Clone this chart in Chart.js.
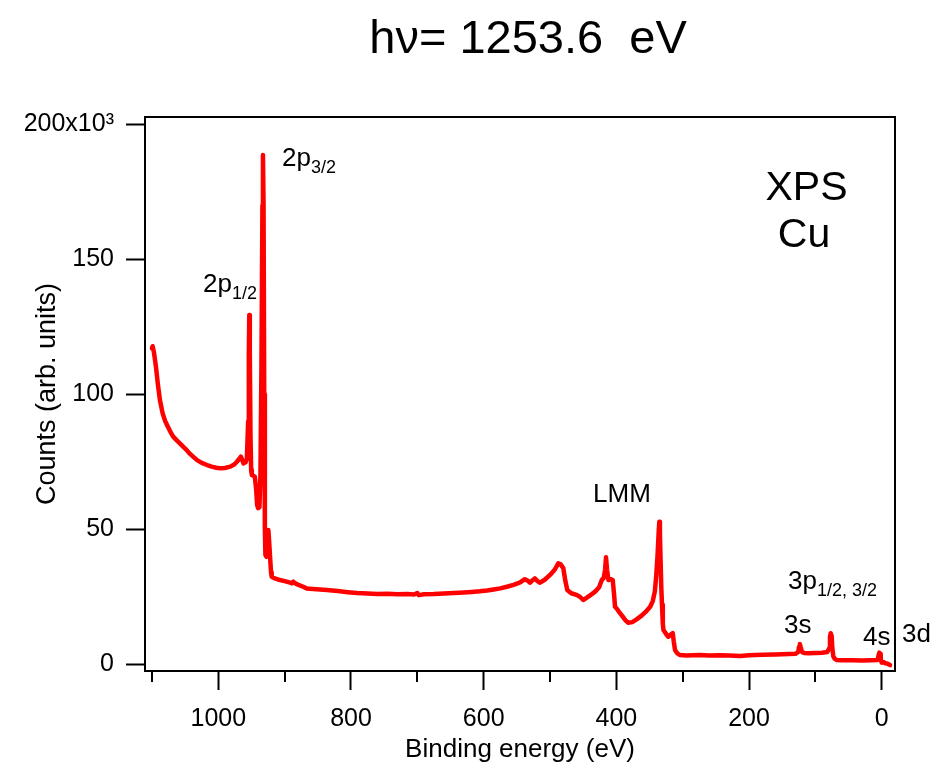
<!DOCTYPE html>
<html>
<head>
<meta charset="utf-8">
<script src="https://cdn.jsdelivr.net/npm/chart.js@4/dist/chart.umd.min.js"></script>
<style>
  html, body { margin: 0; padding: 0; background: #fff; }
  #wrap { width: 935px; height: 769px; }
</style>
</head>
<body>
<div id="wrap"><canvas id="c" width="935" height="769"></canvas></div>
<script>
// ---- Data (binding energy in eV, counts in units of 10^3) ----
const energy = [
  1100, 1099, 1097, 1094, 1091, 1088, 1084, 1080, 1076, 1072, 1068, 1063, 1058, 1053, 1048, 1043, 1038, 1032, 1025, 1017,
  1010, 1003, 997, 990, 982, 976, 972, 968, 966, 964, 962, 959, 957, 955, 954, 953.3, 952.5, 951.5, 950.5, 949.5,
  947, 945, 943, 941.5, 940, 938, 936.5, 935, 933.5, 932.7, 931.8, 930.8, 929.8, 929, 927.5, 925.5, 924.6, 923.5, 922, 920.5,
  919.5, 915, 910, 907, 900, 893, 889, 887, 885, 880, 873, 866.7, 857, 847, 836, 820, 805, 791, 775, 760,
  745, 730, 715, 705, 700, 698, 690, 675, 660, 645, 630, 618, 606, 595, 585, 575, 565, 555, 545, 538,
  534, 530, 526, 523, 519, 515, 508, 500, 493, 487.5, 484, 480, 477, 474, 468, 460, 455, 450, 445, 438,
  432, 426, 422, 419, 417, 415.6, 414, 412, 408, 405.5, 403.5, 402, 399, 394.5, 390, 386, 382, 376, 369, 362,
  355, 349, 345, 342, 340, 338, 336, 335.2, 334.3, 333.3, 332.2, 331.2, 330, 329, 325, 321.7, 318, 315, 313.5, 311.6,
  308, 304, 295, 285, 274, 260, 245, 230, 213, 200, 180, 160, 140, 130, 126, 124.5, 123.4, 122, 120, 117,
  110, 100, 90, 82, 79, 78, 76.9, 75.5, 74.5, 73, 71, 67.8, 60, 45, 30, 15, 6, 5, 3.6, 2.5,
  1.5, 0, -3, -5, -8, -12.5
];
const counts = [
  117.0, 117.8, 115.5, 110.2, 103.5, 97.9, 93.0, 90.0, 88.0, 86.0, 84.3, 83.0, 81.8, 80.6, 79.4, 78.0, 76.9, 75.6, 74.6, 73.8,
  73.2, 72.8, 72.6, 72.7, 73.2, 74.0, 75.0, 76.2, 76.9, 75.8, 74.4, 74.8, 76.0, 90.0, 115.0, 129.4, 115.0, 85.0, 72.0, 70.1,
  69.8, 69.5, 65.0, 59.0, 57.8, 58.2, 70.0, 110.0, 170.0, 188.6, 170.0, 100.0, 50.0, 40.5, 39.8, 45.0, 49.7, 46.0, 39.8, 34.0,
  32.4, 31.8, 31.4, 31.2, 30.8, 30.3, 30.0, 30.6, 30.1, 29.5, 28.8, 28.1, 27.9, 27.7, 27.5, 27.1, 26.7, 26.4, 26.2, 26.0,
  26.1, 25.9, 26.0, 25.8, 26.4, 25.6, 25.9, 26.0, 26.2, 26.4, 26.6, 26.8, 27.0, 27.3, 27.7, 28.1, 28.7, 29.4, 30.3, 31.5,
  31.0, 30.2, 31.2, 31.8, 30.8, 30.2, 31.3, 33.1, 35.0, 37.4, 37.0, 35.6, 31.0, 27.5, 26.3, 25.7, 25.0, 23.8, 24.6, 25.8,
  26.9, 28.5, 31.2, 32.0, 35.0, 39.6, 35.0, 31.2, 31.5, 31.2, 26.0, 21.3, 20.5, 18.9, 17.5, 16.2, 15.4, 15.6, 16.7, 18.0,
  19.6, 21.3, 23.5, 27.0, 32.4, 40.0, 50.0, 52.8, 48.0, 38.0, 28.0, 22.0, 15.0, 12.7, 11.2, 10.2, 11.0, 11.5, 8.5, 5.3,
  4.0, 3.4, 3.2, 3.3, 3.4, 3.2, 3.3, 3.2, 3.1, 3.3, 3.5, 3.6, 3.8, 3.9, 4.5, 6.5, 7.5, 6.0, 4.5, 4.2,
  4.1, 4.2, 4.3, 4.5, 6.0, 10.0, 11.5, 10.5, 6.0, 3.0, 2.0, 1.6, 1.5, 1.5, 1.4, 1.5, 1.6, 3.0, 4.3, 3.8,
  1.5, 0.6, 0.8, 0.4, 0.3, -0.3
];
const yTickValues = [0, 50, 100, 150, 200];
const xMajorTicks = [0, 200, 400, 600, 800, 1000];
const xMinorTicks = [100, 300, 500, 700, 900, 1100];

// Peak labels: [main text, subscript, energy (eV), counts (10^3)]
const peakLabels = [
  ['2p', '3/2', 904, 184.6],
  ['2p', '1/2', 1023, 137.9],
  ['LMM', '', 435.2, 60.1],
  ['3p', '1/2, 3/2', 141.2, 27.9],
  ['3s', '', 147.3, 11.6],
  ['4s', '', 28.2, 7.1],
  ['3d', '', -30.6, 8.3]
];
const bigLabels = [
  ['XPS', 113.4, 172.0],
  ['Cu', 117.1, 154.6]
];
const titleText = 'h\u03bd= 1253.6  eV';

const FONT = '"Liberation Sans", Arial, Helvetica, sans-serif';

const framePlugin = {
  id: 'frame',
  afterDraw(chart) {
    const {ctx, chartArea: a, scales} = chart;
    ctx.save();
    ctx.strokeStyle = '#000';
    ctx.lineWidth = 2;
    ctx.strokeRect(a.left, a.top, a.right - a.left, a.bottom - a.top);
    // minor x ticks
    const xs = scales.x;
    ctx.beginPath();
    xMinorTicks.forEach(v => {
      const px = Math.round(xs.getPixelForValue(v));
      ctx.moveTo(px, a.bottom);
      ctx.lineTo(px, a.bottom + 11);
    });
    ctx.stroke();
    // title
    ctx.fillStyle = '#000';
    ctx.textBaseline = 'alphabetic';
    ctx.textAlign = 'center';
    ctx.font = '47px ' + FONT;
    ctx.fillText(titleText, 528, 53);
    // labels
    peakLabels.forEach(([t, sub, ex, ey]) => {
      const px = xs.getPixelForValue(ex);
      const py = scales.y.getPixelForValue(ey);
      ctx.font = '26px ' + FONT;
      ctx.textAlign = 'left';
      ctx.fillText(t, px, py);
      if (sub) {
        const w = ctx.measureText(t).width;
        ctx.font = '18px ' + FONT;
        ctx.fillText(sub, px + w, py + 7);
      }
    });
    ctx.font = '41px ' + FONT;
    ctx.textAlign = 'center';
    bigLabels.forEach(([t, ex, ey]) => {
      ctx.fillText(t, xs.getPixelForValue(ex), scales.y.getPixelForValue(ey));
    });
    ctx.restore();
  }
};

new Chart(document.getElementById('c'), {
  type: 'line',
  data: {
    datasets: [{
      data: energy.map((e, i) => ({x: e, y: counts[i]})),
      borderColor: '#ff0000',
      borderWidth: 4.5,
      borderJoinStyle: 'round',
      borderCapStyle: 'round',
      pointRadius: 0,
      tension: 0,
      fill: false
    }]
  },
  options: {
    responsive: false,
    animation: false,
    devicePixelRatio: 1,
    layout: { padding: { left: 0, right: 40, top: 117, bottom: 0 } },
    plugins: {
      legend: { display: false },
      tooltip: { enabled: false },
      title: { display: false }
    },
    scales: {
      x: {
        type: 'linear',
        reverse: true,
        min: -20,
        max: 1110.5,
        afterFit(s) { s.height = 98; },
        afterBuildTicks(s) { s.ticks = xMajorTicks.map(v => ({value: v})); },
        ticks: {
          color: '#000',
          font: { family: FONT, size: 25 },
          padding: 14,
          maxRotation: 0,
          autoSkip: false,
          callback: (v) => String(v)
        },
        grid: {
          drawOnChartArea: false,
          drawTicks: true,
          tickLength: 19,
          tickWidth: 2,
          tickColor: '#000'
        },
        border: { display: true, color: '#000', width: 2 },
        title: {
          display: true,
          text: 'Binding energy (eV)',
          color: '#000',
          font: { family: FONT, size: 26, lineHeight: 1.2 },
          padding: { top: 0, bottom: 3.4 }
        }
      },
      y: {
        type: 'linear',
        min: -2.5,
        max: 202.7,
        afterFit(s) { s.width = 145; },
        afterBuildTicks(s) { s.ticks = yTickValues.map(v => ({value: v})); },
        ticks: {
          color: '#000',
          font: { family: FONT, size: 25 },
          padding: 12,
          callback: (v) => v === 200 ? '200x10\u00b3' : String(v)
        },
        grid: {
          drawOnChartArea: false,
          drawTicks: true,
          tickLength: 19,
          tickWidth: 2,
          tickColor: '#000'
        },
        border: { display: true, color: '#000', width: 2 },
        title: {
          display: true,
          text: 'Counts (arb. units)',
          color: '#000',
          font: { family: FONT, size: 27, lineHeight: 1.2 },
          padding: { top: 31, bottom: 0 }
        }
      }
    }
  },
  plugins: [framePlugin]
});
</script>
</body>
</html>
